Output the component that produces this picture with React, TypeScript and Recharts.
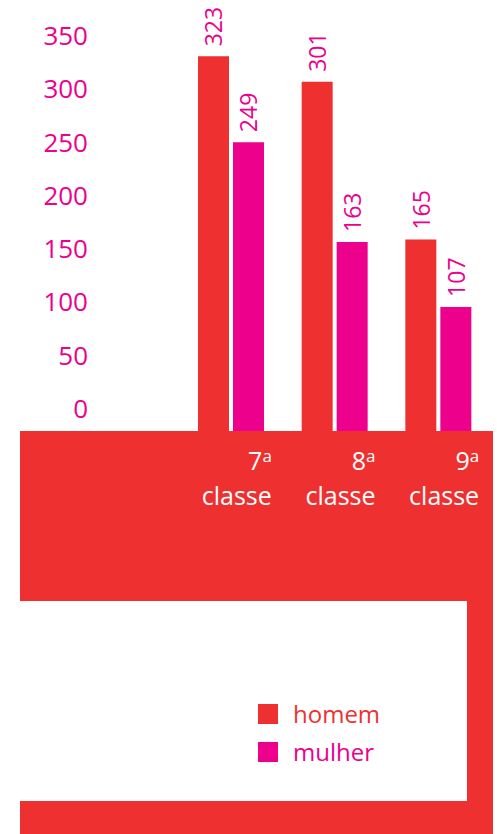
import React from "react";
import { BarChart, Bar, XAxis, YAxis, LabelList } from "recharts";

// school year (ª) per group
const categories = ["7", "8", "9"];
const homem = [323, 301, 165];
const mulher = [249, 163, 107];
const yTicks = [0, 50, 100, 150, 200, 250, 300, 350];

const series = [
  { key: "homem", label: "homem", color: "#EE3130" },
  { key: "mulher", label: "mulher", color: "#EC008C" },
];

const RED = "#EE3130";
const MAGENTA = "#EC008C";
const FONT = "'Open Sans', 'Noto Sans', sans-serif";

const data = categories.map((c, i) => ({
  classe: c,
  homem: homem[i],
  mulher: mulher[i],
}));

const YTick = (props: any) => {
  const { y, payload } = props;
  return (
    <text
      x={88}
      y={y}
      textAnchor="end"
      dominantBaseline="central"
      fill={MAGENTA}
      fontSize={26}
      fontFamily={FONT}
    >
      {payload.value}
    </text>
  );
};

const XTick = (props: any) => {
  const { x, payload } = props;
  const right = x + 41;
  return (
    <g fontFamily={FONT} fill="#fff">
      <text x={right} y={470} textAnchor="end" fontSize={25}>
        {payload.value}
        <tspan fontSize={17} dy={-8}>
          a
        </tspan>
      </text>
      <text x={right} y={505} textAnchor="end" fontSize={25}>
        classe
      </text>
    </g>
  );
};

const ValueLabel = (props: any) => {
  const { x, y, width, value } = props;
  const cx = x + width / 2;
  const ly = y - 10;
  return (
    <text
      x={cx}
      y={ly}
      transform={`rotate(-90, ${cx}, ${ly})`}
      textAnchor="start"
      dominantBaseline="central"
      fill={MAGENTA}
      fontSize={23}
      fontFamily={FONT}
    >
      {value}
    </text>
  );
};

const block = (left: number, top: number, width: number, height: number) => (
  <div
    style={{
      position: "absolute",
      left,
      top,
      width,
      height,
      background: RED,
    }}
  />
);

export default function App() {
  return (
    <div
      style={{
        position: "absolute",
        left: 0,
        top: 0,
        width: 497,
        height: 834,
        background: "#fff",
        overflow: "hidden",
      }}
    >
      {block(20, 431, 473, 170)}
      {block(467, 600, 26, 202)}
      {block(20, 801, 473, 33)}

      <div style={{ position: "absolute", left: 0, top: 0, zIndex: 1 }}>
        <BarChart
          width={497}
          height={834}
          data={data}
          margin={{ top: 25, right: 7, bottom: 373, left: 0 }}
          barSize={31}
          barGap={4}
        >
          <XAxis
            dataKey="classe"
            axisLine={false}
            tickLine={false}
            height={30}
            tick={<XTick />}
            interval={0}
          />
          <YAxis
            yAxisId="ticks"
            type="number"
            domain={[-21.6, 359.4]}
            ticks={yTicks}
            allowDataOverflow
            width={179}
            axisLine={false}
            tickLine={false}
            tick={<YTick />}
          />
          <YAxis yAxisId="bars" type="number" domain={[0, 350]} hide />
          {series.map((s) => (
            <Bar
              key={s.key}
              yAxisId="bars"
              dataKey={s.key}
              fill={s.color}
              isAnimationActive={false}
            >
              <LabelList dataKey={s.key} content={<ValueLabel />} />
            </Bar>
          ))}
        </BarChart>
      </div>

      <div style={{ position: "absolute", left: 258, top: 700, zIndex: 2, fontFamily: FONT }}>
        {series.map((s, i) => (
          <div
            key={s.key}
            style={{
              display: "flex",
              alignItems: "center",
              height: 28,
              marginTop: i === 0 ? 0 : 10,
            }}
          >
            <span style={{ width: 20, height: 20, background: s.color, display: "inline-block" }} />
            <span style={{ marginLeft: 15, fontSize: 24, color: s.color, lineHeight: "28px" }}>
              {s.label}
            </span>
          </div>
        ))}
      </div>
    </div>
  );
}
